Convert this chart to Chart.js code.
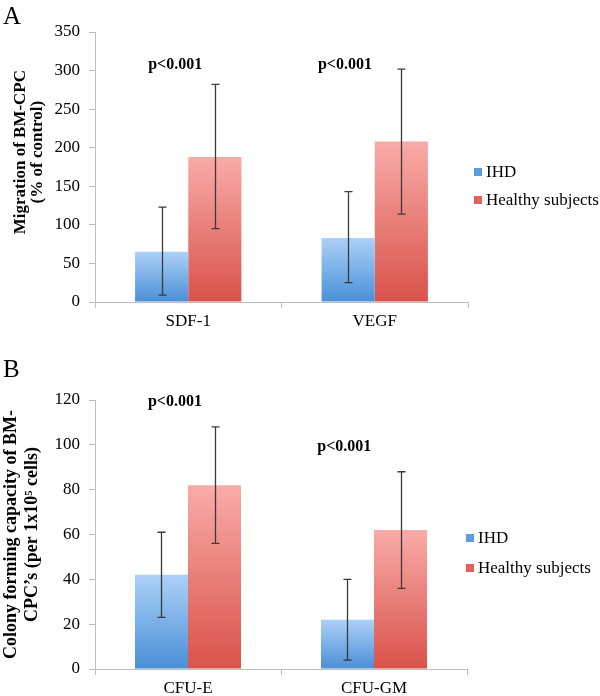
<!DOCTYPE html>
<html>
<head>
<meta charset="utf-8">
<script src="https://cdn.jsdelivr.net/npm/chart.js@4.4.1/dist/chart.umd.min.js"></script>
<style>
  body { margin: 0; background: #fff; }
  #wrap { position: relative; width: 600px; height: 696px; font-family: "Liberation Serif", "Times New Roman", serif; }
  #wrap canvas { position: absolute; left: 0; }
  .panel { position: absolute; left: 3px; font-size: 25px; line-height: 25px; color: #000; }
</style>
</head>
<body>
<div id="wrap">
  <canvas id="chartA" width="600" height="340" style="top:0"></canvas>
  <canvas id="chartB" width="600" height="356" style="top:340px"></canvas>
  <div class="panel" style="top:3px">A</div>
  <div class="panel" style="top:356px">B</div>
</div>
<script>
// --- data, panel A (migration) ---
const catsA = ['SDF-1', 'VEGF'];
const ihdA = [65, 83];
const ihdErrA = [[9, 123], [25, 143]];      // [low, high]
const healthyA = [188, 208];
const healthyErrA = [[95, 282], [114, 302]];

// --- data, panel B (colony forming) ---
const catsB = ['CFU-E', 'CFU-GM'];
const ihdB = [42, 22];
const ihdErrB = [[23, 61], [4, 40]];
const healthyB = [82, 62];
const healthyErrB = [[56, 108], [36, 88]];

const seriesNames = ['IHD', 'Healthy subjects'];
const pText = 'p<0.001';

Chart.defaults.font.family = '"Liberation Serif", "Times New Roman", serif';
Chart.defaults.color = '#000';
Chart.defaults.animation = false;

const BLUE = ['#acd1f8', '#4a8fd7', '#5b9de2'];
const RED = ['#f9aba8', '#d9524a', '#e2625b'];
const AXIS = '#bdbdbd';

// per-bar vertical gradient, light at the top like the excel fill
function gradientFill(colors) {
  return (ctx) => {
    const chart = ctx.chart;
    const y = chart.scales.y;
    if (!chart.chartArea || !y || ctx.type !== 'data') return colors[1];
    const top = y.getPixelForValue(ctx.raw);
    const base = y.getPixelForValue(0);
    const g = chart.ctx.createLinearGradient(0, top, 0, base + 0.01);
    g.addColorStop(0, colors[0]);
    g.addColorStop(1, colors[1]);
    return g;
  };
}

// error bars, p-value labels and the small legend on the right
const extras = {
  id: 'extras',
  afterDatasetsDraw(chart, args, opts) {
    const ctx = chart.ctx;
    const x = chart.scales.x, y = chart.scales.y;
    ctx.save();
    ctx.strokeStyle = '#3a3a3a';
    ctx.lineWidth = 1.3;
    chart.data.datasets.forEach((ds, i) => {
      chart.getDatasetMeta(i).data.forEach((bar, j) => {
        const [lo, hi] = ds.errors[j];
        const cx = Math.round(bar.x) + 0.5;
        const y1 = y.getPixelForValue(lo), y2 = y.getPixelForValue(hi);
        ctx.beginPath();
        ctx.moveTo(cx, y1); ctx.lineTo(cx, y2);
        ctx.moveTo(cx - 4, y1); ctx.lineTo(cx + 4, y1);
        ctx.moveTo(cx - 4, y2); ctx.lineTo(cx + 4, y2);
        ctx.stroke();
      });
    });

    // p-value labels
    ctx.fillStyle = '#000';
    ctx.font = 'bold 16px "Liberation Serif"';
    ctx.textAlign = 'center';
    ctx.textBaseline = 'middle';
    opts.notes.forEach(n => {
      ctx.fillText(n.text, x.getPixelForValue(n.at), y.getPixelForValue(n.value));
    });

    // legend
    const area = chart.chartArea;
    ctx.font = '17px "Liberation Serif"';
    ctx.textAlign = 'left';
    chart.data.datasets.forEach((ds, i) => {
      const lx = area.right + opts.legendX;
      const ly = area.top + opts.legendY + i * opts.legendGap;
      ctx.fillStyle = ds.legendColor;
      ctx.fillRect(lx, ly - 4, 8, 8);
      ctx.fillStyle = '#000';
      ctx.fillText(ds.label, lx + 12, ly + 1);
    });
    ctx.restore();
  }
};

function makeChart(id, cats, ihd, ihdErr, healthy, healthyErr, p) {
  return new Chart(document.getElementById(id), {
    type: 'bar',
    data: {
      labels: cats,
      datasets: [
        { label: seriesNames[0], data: ihd, errors: ihdErr,
          backgroundColor: gradientFill(BLUE), legendColor: BLUE[2] },
        { label: seriesNames[1], data: healthy, errors: healthyErr,
          backgroundColor: gradientFill(RED), legendColor: RED[2] }
      ]
    },
    options: {
      responsive: false,
      animation: false,
      categoryPercentage: 0.57,
      barPercentage: 1.0,
      layout: { padding: { top: p.top, right: p.right, left: 0, bottom: 0 } },
      plugins: {
        legend: { display: false },
        tooltip: { enabled: false },
        extras: { notes: p.notes, legendX: p.legendX, legendY: p.legendY, legendGap: p.legendGap }
      },
      scales: {
        x: {
          afterFit: (s) => { s.height = p.xHeight; },
          grid: { display: true, drawOnChartArea: false, tickLength: 6, color: AXIS },
          border: { color: AXIS },
          ticks: { font: { size: 17 }, padding: 3, color: '#000' }
        },
        y: {
          min: 0, max: p.max,
          afterFit: (s) => { s.width = 95; },
          grid: { display: true, drawOnChartArea: false, tickLength: 6, color: AXIS },
          border: { color: AXIS },
          ticks: { stepSize: p.step, font: { size: 17 }, padding: 9, color: '#000' },
          title: {
            display: true, text: p.title, color: '#000',
            font: { size: p.titleSize, weight: 'bold', lineHeight: p.titleLH },
            padding: { top: p.titlePad, bottom: 0 }
          }
        }
      }
    },
    plugins: [extras]
  });
}

// leading spaces nudge the rotated title a bit towards the top, as in the original
makeChart('chartA', catsA, ihdA, ihdErrA, healthyA, healthyErrA, {
  top: 32, right: 132, xHeight: 38, max: 350, step: 50,
  title: ['       Migration of BM-CPC', '       (% of control)'], titleSize: 17, titleLH: 1.0, titlePad: 12,
  notes: [{ text: pText, at: -0.07, value: 307 }, { text: pText, at: 0.84, value: 307 }],
  legendX: 6, legendY: 140, legendGap: 28
});

makeChart('chartB', catsB, ihdB, ihdErrB, healthyB, healthyErrB, {
  top: 60, right: 133, xHeight: 27, max: 120, step: 20,
  title: ['Colony forming capacity of BM-', 'CPC\u2019s (per 1x10\u2075 cells)'], titleSize: 18, titleLH: 1.15, titlePad: 1,
  notes: [{ text: pText, at: -0.07, value: 119 }, { text: pText, at: 0.84, value: 99 }],
  legendX: -1, legendY: 138, legendGap: 30
});
</script>
</body>
</html>
